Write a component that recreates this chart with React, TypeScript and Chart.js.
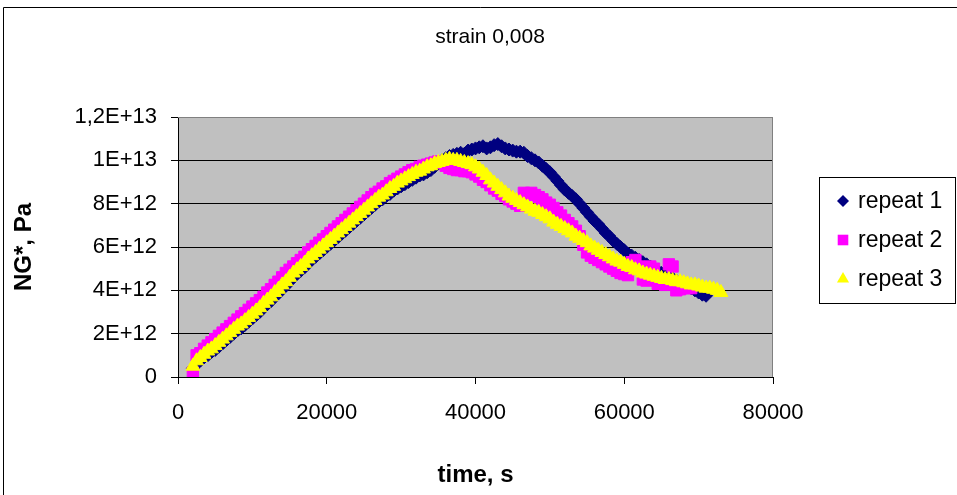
import React, { useEffect, useRef } from "react";
import { Chart, registerables } from "chart.js";

Chart.register(...registerables);

const TITLE = "strain 0,008";
const X_TITLE = "time, s";
const Y_TITLE = "NG*, Pa";
const SERIES_NAMES = ["repeat 1", "repeat 2", "repeat 3"];
const SERIES_COLORS = ["#000080", "#FF00FF", "#FFFF00"];

// time, s (shared sampling instants, every 500 s)
const TIME_S = [
  2000, 2500, 3000, 3500, 4000, 4500, 5000, 5500, 6000, 6500,
  7000, 7500, 8000, 8500, 9000, 9500, 10000, 10500, 11000, 11500,
  12000, 12500, 13000, 13500, 14000, 14500, 15000, 15500, 16000, 16500,
  17000, 17500, 18000, 18500, 19000, 19500, 20000, 20500, 21000, 21500,
  22000, 22500, 23000, 23500, 24000, 24500, 25000, 25500, 26000, 26500,
  27000, 27500, 28000, 28500, 29000, 29500, 30000, 30500, 31000, 31500,
  32000, 32500, 33000, 33500, 34000, 34500, 35000, 35500, 36000, 36500,
  37000, 37500, 38000, 38500, 39000, 39500, 40000, 40500, 41000, 41500,
  42000, 42500, 43000, 43500, 44000, 44500, 45000, 45500, 46000, 46500,
  47000, 47500, 48000, 48500, 49000, 49500, 50000, 50500, 51000, 51500,
  52000, 52500, 53000, 53500, 54000, 54500, 55000, 55500, 56000, 56500,
  57000, 57500, 58000, 58500, 59000, 59500, 60000, 60500, 61000, 61500,
  62000, 62500, 63000, 63500, 64000, 64500, 65000, 65500, 66000, 66500,
  67000, 67500, 68000, 68500, 69000, 69500, 70000, 70500, 71000, 71500,
  72000, 72500, 73000,
];

// NG*, in units of 1E+12 Pa
const REPEAT1 = [
  0.4, 0.6, 0.75, 0.9, 1.0, 1.15, 1.25, 1.4, 1.55, 1.7,
  1.85, 2.0, 2.15, 2.25, 2.4, 2.55, 2.7, 2.85, 3.0, 3.2,
  3.35, 3.5, 3.7, 3.85, 4.05, 4.2, 4.4, 4.6, 4.75, 4.9,
  5.05, 5.25, 5.4, 5.55, 5.7, 5.85, 6.0, 6.15, 6.3, 6.45,
  6.6, 6.75, 6.9, 7.05, 7.2, 7.35, 7.5, 7.65, 7.8, 7.95,
  8.1, 8.2, 8.35, 8.45, 8.6, 8.7, 8.8, 8.9, 9.0, 9.1,
  9.2, 9.3, 9.35, 9.45, 9.55, 9.7, 9.85, 10.0, 10.1, 10.2,
  10.25, 10.3, 10.35, 10.3, 10.45, 10.5, 10.55, 10.6, 10.65, 10.55,
  10.6, 10.7, 10.75, 10.65, 10.55, 10.5, 10.45, 10.4, 10.4, 10.35,
  10.2, 10.1, 10.0, 9.9, 9.75, 9.6, 9.45, 9.25, 9.05, 8.85,
  8.65, 8.5, 8.35, 8.2, 8.0, 7.8, 7.6, 7.4, 7.2, 7.05,
  6.85, 6.65, 6.5, 6.3, 6.15, 6.0, 5.85, 5.7, 5.6, 5.5,
  5.4, 5.3, 5.2, 5.1, 5.0, 4.9, 4.8, 4.7, 4.6, 4.55,
  4.45, 4.35, 4.3, 4.2, 4.1, 4.0, 3.9, 3.8, 3.75,
];
const REPEAT2 = [
  0.2, 1.0, 1.1, 1.3, 1.45, 1.6, 1.75, 1.9, 2.05, 2.2,
  2.35, 2.5, 2.65, 2.8, 2.95, 3.1, 3.25, 3.4, 3.55, 3.7,
  3.9, 4.05, 4.25, 4.4, 4.6, 4.8, 4.95, 5.1, 5.25, 5.4,
  5.55, 5.75, 5.9, 6.05, 6.2, 6.35, 6.5, 6.65, 6.8, 6.95,
  7.1, 7.25, 7.4, 7.55, 7.7, 7.85, 8.0, 8.15, 8.3, 8.45,
  8.55, 8.7, 8.8, 8.95, 9.05, 9.15, 9.25, 9.35, 9.45, 9.55,
  9.6, 9.7, 9.75, 9.8, 9.85, 9.9, 9.95, 9.9, 9.75, 9.65,
  9.6, 9.55, 9.55, 9.5, 9.5, 9.45, 9.35, 9.25, 9.1, 9.0,
  8.85, 8.7, 8.6, 8.45, 8.35, 8.2, 8.1, 8.0, 7.9, 8.5,
  8.45, 8.5, 8.4, 8.3, 8.2, 8.05, 7.95, 7.8, 7.6, 7.45,
  7.25, 7.1, 6.95, 6.75, 6.5, 6.1, 5.75, 5.6, 5.5, 5.4,
  5.3, 5.2, 5.1, 5.0, 4.9, 4.8, 4.75, 4.7, 5.3, 5.4,
  5.1, 4.5, 4.45, 5.1, 5.0, 4.3, 4.3, 4.25, 5.2, 5.1,
  4.0, 4.05, 4.15, 4.1, 4.1,
];
const REPEAT3 = [
  0.5, 0.75, 0.9, 1.05, 1.2, 1.3, 1.45, 1.6, 1.75, 1.9,
  2.05, 2.2, 2.35, 2.45, 2.6, 2.75, 2.9, 3.05, 3.2, 3.4,
  3.55, 3.7, 3.9, 4.05, 4.25, 4.4, 4.6, 4.8, 4.95, 5.1,
  5.25, 5.45, 5.6, 5.75, 5.9, 6.05, 6.2, 6.35, 6.5, 6.65,
  6.8, 6.95, 7.1, 7.25, 7.4, 7.55, 7.7, 7.85, 8.0, 8.15,
  8.3, 8.4, 8.55, 8.7, 8.8, 8.95, 9.05, 9.15, 9.25, 9.35,
  9.45, 9.5, 9.6, 9.7, 9.75, 9.85, 9.9, 9.95, 10.0, 10.05,
  10.0, 10.0, 9.95, 9.9, 9.85, 9.8, 9.7, 9.6, 9.45, 9.3,
  9.1, 8.95, 8.8, 8.65, 8.5, 8.35, 8.25, 8.15, 8.05, 7.95,
  7.85, 7.75, 7.65, 7.6, 7.5, 7.4, 7.3, 7.15, 7.05, 6.95,
  6.85, 6.75, 6.65, 6.5, 6.4, 6.3, 6.2, 6.05, 5.95, 5.85,
  5.75, 5.65, 5.55, 5.45, 5.35, 5.3, 5.2, 5.1, 5.05, 4.95,
  4.9, 4.8, 4.75, 4.7, 4.65, 4.6, 4.55, 4.5, 4.5, 4.45,
  4.4, 4.4, 4.35, 4.3, 4.25, 4.25, 4.2, 4.15, 4.1, 4.1,
  4.05, 4.0, 3.9,
];
const SERIES_VALUES = [REPEAT1, REPEAT2, REPEAT3];
const VALUE_UNIT = 1e12;

const X_MIN = 0;
const X_MAX = 80000;
const Y_MIN = 0;
const Y_MAX = 1.2e13;
const Y_TICK_VALUES = [0, 2e12, 4e12, 6e12, 8e12, 1e13, 1.2e13];
const Y_TICK_LABELS = ["0", "2E+12", "4E+12", "6E+12", "8E+12", "1E+13", "1,2E+13"];
const X_TICK_VALUES = [0, 20000, 40000, 60000, 80000];
const X_TICK_LABELS = ["0", "20000", "40000", "60000", "80000"];

const FONT = "'Liberation Sans', Arial, sans-serif";

const POINT_STYLES = ["rectRot", "rect", "triangle"];
const POINT_RADII = [6.5, 8, 8];

function drawMarker(ctx: CanvasRenderingContext2D, style: string, x: number, y: number) {
  ctx.beginPath();
  if (style === "rectRot") {
    const r = 6;
    ctx.moveTo(x - r, y);
    ctx.lineTo(x, y - r);
    ctx.lineTo(x + r, y);
    ctx.lineTo(x, y + r);
    ctx.closePath();
  } else if (style === "rect") {
    const h = 5.3;
    ctx.rect(x - h, y - h, 2 * h, 2 * h);
  } else {
    const r = 7;
    ctx.moveTo(x, y - r);
    ctx.lineTo(x + r * 0.866, y + r * 0.5);
    ctx.lineTo(x - r * 0.866, y + r * 0.5);
    ctx.closePath();
  }
  ctx.fill();
}

const excelPlugin = {
  id: "excelFrame",
  beforeDraw(chart: any) {
    const { ctx, chartArea: a, width, height } = chart;
    ctx.save();
    ctx.fillStyle = "#ffffff";
    ctx.fillRect(0, 0, width, height);
    ctx.strokeStyle = "#000000";
    ctx.lineWidth = 1;
    ctx.beginPath();
    ctx.moveTo(3.5, height + 5);
    ctx.lineTo(3.5, 7.5);
    ctx.lineTo(width + 5, 7.5);
    ctx.stroke();
    ctx.fillStyle = "#C0C0C0";
    ctx.fillRect(a.left, a.top, a.right - a.left, a.bottom - a.top);
    ctx.restore();
  },
  beforeDatasetsDraw(chart: any) {
    const { ctx, chartArea: a } = chart;
    ctx.save();
    ctx.strokeStyle = "#808080";
    ctx.lineWidth = 1;
    ctx.beginPath();
    ctx.moveTo(a.left, a.top + 0.5);
    ctx.lineTo(a.right - 0.5, a.top + 0.5);
    ctx.lineTo(a.right - 0.5, a.bottom);
    ctx.stroke();
    ctx.restore();
  },
  afterDraw(chart: any) {
    const { ctx } = chart;
    ctx.save();
    ctx.fillStyle = "#000000";
    ctx.font = `21px ${FONT}`;
    ctx.textAlign = "center";
    ctx.textBaseline = "middle";
    ctx.fillText(TITLE, 490, 37);
    ctx.strokeStyle = "#000000";
    ctx.lineWidth = 1;
    ctx.strokeRect(819.5, 177.5, 136, 126);
    const rows = [201, 240, 279];
    ctx.font = `23px ${FONT}`;
    ctx.textAlign = "left";
    SERIES_NAMES.forEach((name, i) => {
      ctx.fillStyle = SERIES_COLORS[i];
      drawMarker(ctx, POINT_STYLES[i], 843, rows[i]);
      ctx.fillStyle = "#000000";
      ctx.fillText(name, 858, rows[i] + 1);
    });
    ctx.restore();
  },
};

export default function App() {
  const canvasRef = useRef<HTMLCanvasElement | null>(null);

  useEffect(() => {
    const canvas = canvasRef.current;
    if (!canvas) return;
    const datasets = SERIES_VALUES.map((vals, i) => ({
      label: SERIES_NAMES[i],
      data: vals.map((v, j) => ({ x: TIME_S[j], y: v * VALUE_UNIT })),
      pointStyle: POINT_STYLES[i],
      pointRadius: POINT_RADII[i],
      pointHoverRadius: POINT_RADII[i],
      backgroundColor: SERIES_COLORS[i],
      borderColor: SERIES_COLORS[i],
      pointBorderWidth: 1,
      showLine: false,
      order: 3 - i,
    }));

    const chart = new Chart(canvas, {
      type: "scatter",
      data: { datasets },
      plugins: [excelPlugin],
      options: {
        animation: false,
        responsive: false,
        devicePixelRatio: 1,
        events: [],
        layout: { padding: { left: 0, top: 117, right: 184, bottom: 0 } },
        plugins: {
          legend: { display: false },
          title: { display: false },
          tooltip: { enabled: false },
        },
        scales: {
          x: {
            type: "linear",
            min: X_MIN,
            max: X_MAX,
            afterBuildTicks: (s: any) => {
              s.ticks = X_TICK_VALUES.map((v) => ({ value: v }));
            },
            afterFit: (s: any) => {
              s.height = 118;
            },
            ticks: {
              autoSkip: false,
              maxRotation: 0,
              padding: 16,
              color: "#000000",
              font: { family: FONT, size: 22 },
              callback: (value: any) => {
                const i = X_TICK_VALUES.indexOf(Number(value));
                return i >= 0 ? X_TICK_LABELS[i] : "";
              },
            },
            grid: {
              display: true,
              drawOnChartArea: false,
              drawTicks: true,
              tickLength: 7,
              tickColor: "#000000",
              color: "#000000",
            },
            border: { display: true, color: "#000000", width: 1 },
            title: {
              display: true,
              text: X_TITLE,
              color: "#000000",
              font: { family: FONT, size: 24, weight: "bold" },
              padding: { top: 0, bottom: 5 },
            },
          },
          y: {
            type: "linear",
            min: Y_MIN,
            max: Y_MAX,
            afterBuildTicks: (s: any) => {
              s.ticks = Y_TICK_VALUES.map((v) => ({ value: v }));
            },
            afterFit: (s: any) => {
              s.width = 178;
            },
            ticks: {
              autoSkip: false,
              padding: 14,
              color: "#000000",
              font: { family: FONT, size: 22 },
              callback: (value: any) => {
                const i = Y_TICK_VALUES.findIndex((v) => Math.abs(v - Number(value)) < 1);
                return i >= 0 ? Y_TICK_LABELS[i] : "";
              },
            },
            grid: {
              display: true,
              drawOnChartArea: true,
              drawTicks: true,
              tickLength: 7,
              tickColor: "#000000",
              color: (c: any) =>
                c.tick && c.tick.value === Y_MAX ? "#808080" : "#000000",
              lineWidth: 1,
            },
            border: { display: true, color: "#000000", width: 1 },
            title: {
              display: true,
              text: Y_TITLE,
              color: "#000000",
              font: { family: FONT, size: 24, weight: "bold" },
              padding: { top: 10, bottom: 0 },
            },
          },
        },
      },
    } as any);

    return () => {
      chart.destroy();
    };
  }, []);

  return (
    <div
      style={{
        position: "fixed",
        left: 0,
        top: 0,
        width: 957,
        height: 495,
        background: "#ffffff",
        overflow: "hidden",
      }}
    >
      <canvas
        ref={canvasRef}
        width={957}
        height={495}
        style={{ display: "block", width: 957, height: 495 }}
      />
    </div>
  );
}
